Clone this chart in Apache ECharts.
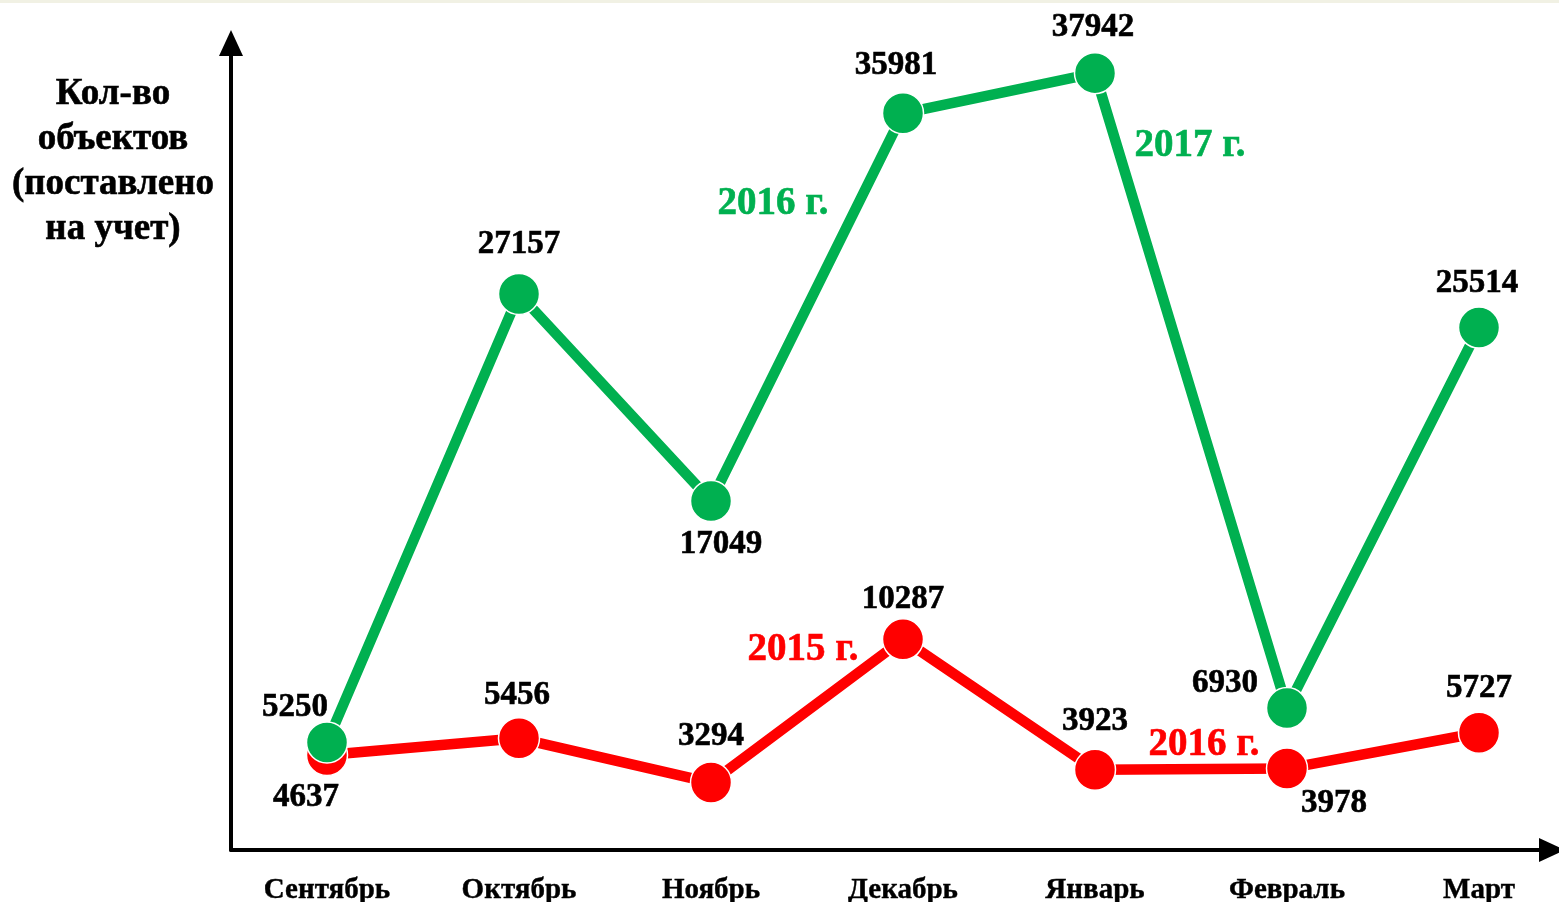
<!DOCTYPE html>
<html><head><meta charset="utf-8">
<script src="https://cdn.jsdelivr.net/npm/echarts@6/dist/echarts.min.js"></script>
<style>html,body{margin:0;padding:0;background:#fff}#c{width:1559px;height:902px}</style>
</head><body><div id="c"></div>
<script>
const categories = ['Сентябрь','Октябрь','Ноябрь','Декабрь','Январь','Февраль','Март'];
const seriesRed = [4637, 5456, 3294, 10287, 3923, 3978, 5727];
const seriesGreen = [5250, 27157, 17049, 35981, 37942, 6930, 25514];
const yTitleLines = ['Кол-во','объектов','(поставлено','на учет)'];

const FONT = '"Liberation Serif","Times New Roman",serif';
const GREEN = '#00b050';
const RED = '#ff0000';
const redOffsets = [[-21,42],[-2,-43],[0,-46],[0,-40],[0,-48],[47,35],[0,-44]];
const greenOffsets = [[-32,-35],[0,-49],[10,44],[-7,-48],[-2,-46],[-62,-25],[-2,-44]];

function mk(name, values, color, offsets) {
  return {
    name, type: 'line', xAxisIndex: 0, yAxisIndex: 0,
    data: values.map((v, i) => ({
      value: v,
      label: { show: true, position: 'inside', offset: offsets[i] }
    })),
    symbol: 'circle', symbolSize: 41,
    lineStyle: { color, width: 10.5 },
    itemStyle: { color, borderColor: '#fff', borderWidth: 1.5 },
    label: { color: '#000', fontFamily: FONT, fontWeight: 'bold', fontSize: 33, textBorderColor: '#000', textBorderWidth: 0.6 },
    emphasis: { disabled: true },
    animation: false
  };
}

const chart = echarts.init(document.getElementById('c'));
chart.setOption({
  backgroundColor: '#fff',
  animation: false,
  grid: [
    { left: 231, top: 31, bottom: 52, width: 1344, outerBoundsMode: 'none', containLabel: false },
    { left: 231, top: 43, bottom: 52, right: 7, outerBoundsMode: 'none', containLabel: false }
  ],
  xAxis: [
    { type: 'category', gridIndex: 0, data: categories, boundaryGap: true,
      axisLine: { show: false }, axisTick: { show: false },
      axisLabel: { margin: 26, color: '#000', fontFamily: FONT, fontWeight: 'bold', fontSize: 29, textBorderColor: '#000', textBorderWidth: 0.4 } },
    { type: 'value', gridIndex: 1, min: 0, max: 1,
      axisLine: { show: true, lineStyle: { color: '#000', width: 4 }, symbol: ['none','triangle'], symbolSize: [24, 26] },
      axisTick: { show: false }, axisLabel: { show: false }, splitLine: { show: false } }
  ],
  yAxis: [
    { type: 'value', gridIndex: 0, min: 0, max: 40000, show: false },
    { type: 'value', gridIndex: 1, min: 0, max: 1,
      axisLine: { show: true, lineStyle: { color: '#000', width: 4 }, symbol: ['none','triangle'], symbolSize: [24, 26] },
      axisTick: { show: false }, axisLabel: { show: false }, splitLine: { show: false } }
  ],
  graphic: [
    { type: 'rect', left: 0, top: 0, shape: { width: 1559, height: 3 }, style: { fill: '#f1f1e4' } },
    { type: 'text', x: 113, y: 162, style: { text: yTitleLines.join('\n'), fill: '#000', stroke: '#000', lineWidth: 0.6, font: 'bold 37px ' + FONT, lineHeight: 45, align: 'center', verticalAlign: 'middle' } },
    { type: 'text', x: 773, y: 204, style: { text: '2016 г.', fill: GREEN, stroke: GREEN, lineWidth: 0.6, font: 'bold 39px ' + FONT, align: 'center', verticalAlign: 'middle' } },
    { type: 'text', x: 1190, y: 146, style: { text: '2017 г.', fill: GREEN, stroke: GREEN, lineWidth: 0.6, font: 'bold 39px ' + FONT, align: 'center', verticalAlign: 'middle' } },
    { type: 'text', x: 803, y: 650, style: { text: '2015 г.', fill: RED, stroke: RED, lineWidth: 0.6, font: 'bold 39px ' + FONT, align: 'center', verticalAlign: 'middle' } },
    { type: 'text', x: 1204, y: 745, style: { text: '2016 г.', fill: RED, stroke: RED, lineWidth: 0.6, font: 'bold 39px ' + FONT, align: 'center', verticalAlign: 'middle' } }
  ],
  series: [
    mk('2015-2016', seriesRed, RED, redOffsets),
    mk('2016-2017', seriesGreen, GREEN, greenOffsets)
  ]
});
</script></body></html>
